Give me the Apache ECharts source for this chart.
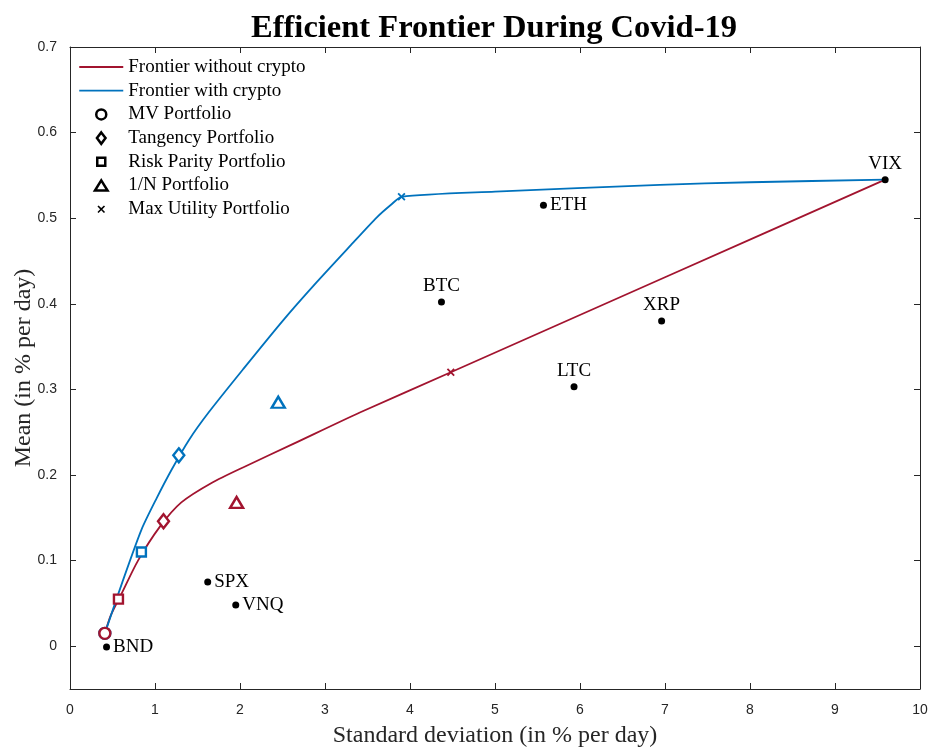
<!DOCTYPE html>
<html>
<head>
<meta charset="utf-8">
<script src="https://cdn.jsdelivr.net/npm/echarts@6/dist/echarts.min.js"></script>
<style>
  html, body { margin: 0; padding: 0; background: #fff; }
  #chart { width: 933px; height: 749px; }
</style>
</head>
<body>
<div id="chart"></div>
<script>
// values
const xTicks = [0, 1, 2, 3, 4, 5, 6, 7, 8, 9, 10];
const yTicks = [0, 0.1, 0.2, 0.3, 0.4, 0.5, 0.6, 0.7];

const assetNames = ['BND', 'SPX', 'VNQ', 'BTC', 'ETH', 'LTC', 'XRP', 'VIX'];
const assetStd = [0.43, 1.62, 1.95, 4.37, 5.57, 5.93, 6.96, 9.59];
const assetMean = [-0.001, 0.075, 0.048, 0.402, 0.515, 0.303, 0.380, 0.545];

const frontierNoCryptoStd = [0.41, 0.48, 0.60, 0.80, 1.06, 1.31, 1.67, 2.06, 2.62, 3.41, 4.48, 7.00, 9.59];
const frontierNoCryptoMean = [0.015, 0.036, 0.060, 0.100, 0.140, 0.168, 0.191, 0.210, 0.236, 0.273, 0.320, 0.431, 0.545];

const frontierCryptoStd = [0.41, 0.62, 0.84, 1.02, 1.20, 1.40, 1.63, 2.04, 2.51, 2.90, 3.29, 3.61, 3.78, 3.90, 5.00, 6.94, 8.00, 9.59];
const frontierCryptoMean = [0.015, 0.076, 0.136, 0.173, 0.207, 0.241, 0.273, 0.324, 0.381, 0.425, 0.467, 0.501, 0.516, 0.525, 0.531, 0.539, 0.542, 0.545];

const portfolioNames = ['MV Portfolio', 'Tangency Portfolio', 'Risk Parity Portfolio', '1/N Portfolio', 'Max Utility Portfolio'];
const noCryptoStd = [0.41, 1.10, 0.57, 1.96, 4.48];
const noCryptoMean = [0.015, 0.146, 0.055, 0.168, 0.320];
const cryptoStd = [0.41, 1.28, 0.84, 2.45, 3.90];
const cryptoMean = [0.015, 0.223, 0.110, 0.285, 0.525];

const RED = '#A2142F';
const BLUE = '#0072BD';
const AXIS = '#262626';
const SERIF = '"Liberation Serif", "Times New Roman", serif';
const SANS = '"Liberation Sans", Arial, sans-serif';

const CROSS = 'path://M0,1.6L1.6,0L5,3.4L8.4,0L10,1.6L6.6,5L10,8.4L8.4,10L5,6.6L1.6,10L0,8.4L3.4,5Z';

const markerSymbols = ['circle', 'diamond', 'rect', 'triangle', CROSS];
const markerSizes = [11, [11, 14], 9, [13, 11], 8];

// legend icons drawn in a 44x12 box (leading moveTo pins the box size)
const BOX = 'path://M0,0M44,12';
const legendIcons = [
  BOX + 'M0,5.1L44,5.1L44,6.9L0,6.9Z',
  BOX + 'M0,5.1L44,5.1L44,6.9L0,6.9Z',
  BOX + 'M17,6A5,5,0,1,1,27,6A5,5,0,1,1,17,6Z',
  BOX + 'M22,0.3L26.3,6L22,11.7L17.7,6Z',
  BOX + 'M18,2L26,2L26,10L18,10Z',
  BOX + 'M22,0.8L28.3,11L15.7,11Z',
  BOX + 'M18.2,3.3L19.3,2.2L22,4.9L24.7,2.2L25.8,3.3L23.1,6L25.8,8.7L24.7,9.8L22,7.1L19.3,9.8L18.2,8.7L20.9,6Z'
];

function zip(xs, ys) {
  return xs.map((x, i) => [x, ys[i]]);
}

const labelTop = { BTC: true, LTC: true, XRP: true, VIX: true };

const chart = echarts.init(document.getElementById('chart'), null, { renderer: 'canvas' });

const portfolioSeries = portfolioNames.map((name, i) => {
  const isCross = i === 4;
  const style = c => isCross
    ? { color: c, borderWidth: 0, opacity: 1 }
    : { color: '#fff', borderColor: c, borderWidth: 2.4, opacity: 1 };
  return {
    name: name,
    type: 'scatter',
    symbol: markerSymbols[i],
    symbolSize: markerSizes[i],
    z: 5,
    itemStyle: { opacity: 1 },
    data: [
      { value: [cryptoStd[i], cryptoMean[i]], itemStyle: style(BLUE) },
      { value: [noCryptoStd[i], noCryptoMean[i]], itemStyle: style(RED) }
    ]
  };
});

const lineNames = ['Frontier without crypto', 'Frontier with crypto'];
const legendData = lineNames.concat(portfolioNames).map((name, i) => {
  let style;
  if (i === 0) style = { color: RED, borderWidth: 0 };
  else if (i === 1) style = { color: BLUE, borderWidth: 0 };
  else if (i === 6) style = { color: '#000', borderWidth: 0 };
  else style = { color: '#fff', borderColor: '#000', borderWidth: 2.5 };
  return { name: name, icon: legendIcons[i], itemStyle: style };
});

const option = {
  animation: false,
  backgroundColor: '#fff',
  title: {
    text: 'Efficient Frontier During Covid-19',
    left: 489,
    top: 7,
    textAlign: 'center',
    textStyle: { fontFamily: SERIF, fontSize: 32.5, fontWeight: 'bold', color: '#000' }
  },
  legend: {
    orient: 'vertical',
    left: 73,
    top: 52,
    itemWidth: 44,
    itemHeight: 12,
    itemGap: 3.7,
    symbolKeepAspect: true,
    selectedMode: false,
    textStyle: { fontFamily: SERIF, fontSize: 19, color: '#000', lineHeight: 20 },
    data: legendData
  },
  grid: { left: 70, right: 13, top: 47, bottom: 60, containLabel: false, outerBoundsMode: 'none' },
  xAxis: [
    {
      type: 'value', min: 0, max: 10, interval: 1, position: 'bottom',
      name: 'Standard deviation (in % per day)',
      nameLocation: 'middle', nameGap: 35, nameMoveOverlap: false,
      nameTextStyle: { fontFamily: SERIF, fontSize: 24, color: AXIS },
      axisLine: { show: true, onZero: false, lineStyle: { color: AXIS, width: 1 } },
      axisTick: { show: true, inside: true, length: 6, lineStyle: { color: AXIS } },
      axisLabel: { fontFamily: SANS, fontSize: 14, color: AXIS, margin: 14,
        customValues: xTicks, formatter: v => String(v) },
      splitLine: { show: false }
    },
    {
      type: 'value', min: 0, max: 10, interval: 1, position: 'top',
      axisLine: { show: true, onZero: false, lineStyle: { color: AXIS, width: 1 } },
      axisTick: { show: true, inside: true, length: 6, lineStyle: { color: AXIS } },
      axisLabel: { show: false },
      splitLine: { show: false }
    }
  ],
  yAxis: [
    {
      type: 'value', min: -0.05, max: 0.7, position: 'left',
      name: 'Mean (in % per day)',
      nameLocation: 'middle', nameGap: 34, nameRotate: 90, nameMoveOverlap: false,
      nameTextStyle: { fontFamily: SERIF, fontSize: 24, color: AXIS },
      axisLine: { show: true, onZero: false, lineStyle: { color: AXIS, width: 1 } },
      axisTick: { show: true, inside: true, length: 6, customValues: yTicks, lineStyle: { color: AXIS } },
      axisLabel: { fontFamily: SANS, fontSize: 14, color: AXIS, margin: 13,
        customValues: yTicks, formatter: v => String(v) },
      splitLine: { show: false }
    },
    {
      type: 'value', min: -0.05, max: 0.7, position: 'right',
      axisLine: { show: true, onZero: false, lineStyle: { color: AXIS, width: 1 } },
      axisTick: { show: true, inside: true, length: 6, customValues: yTicks, lineStyle: { color: AXIS } },
      axisLabel: { show: false },
      splitLine: { show: false }
    }
  ],
  series: [
    {
      name: lineNames[0],
      type: 'line',
      symbol: 'none',
      smooth: 0.25,
      z: 2,
      lineStyle: { color: RED, width: 1.8 },
      itemStyle: { color: RED },
      data: zip(frontierNoCryptoStd, frontierNoCryptoMean)
    },
    {
      name: lineNames[1],
      type: 'line',
      symbol: 'none',
      smooth: 0.25,
      z: 2,
      lineStyle: { color: BLUE, width: 1.8 },
      itemStyle: { color: BLUE },
      data: zip(frontierCryptoStd, frontierCryptoMean)
    },
    {
      name: 'Assets',
      type: 'scatter',
      symbol: 'circle',
      symbolSize: 7,
      z: 4,
      itemStyle: { color: '#000', opacity: 1 },
      data: assetNames.map((n, i) => ({
        name: n,
        value: [assetStd[i], assetMean[i]],
        label: labelTop[n]
          ? { position: 'top', distance: 3 }
          : { position: 'right', distance: 3 }
      })),
      label: {
        show: true,
        formatter: p => p.name,
        fontFamily: SERIF,
        fontSize: 19,
        color: '#000',
        opacity: 1
      }
    }
  ].concat(portfolioSeries)
};

chart.setOption(option);
</script>
</body>
</html>
